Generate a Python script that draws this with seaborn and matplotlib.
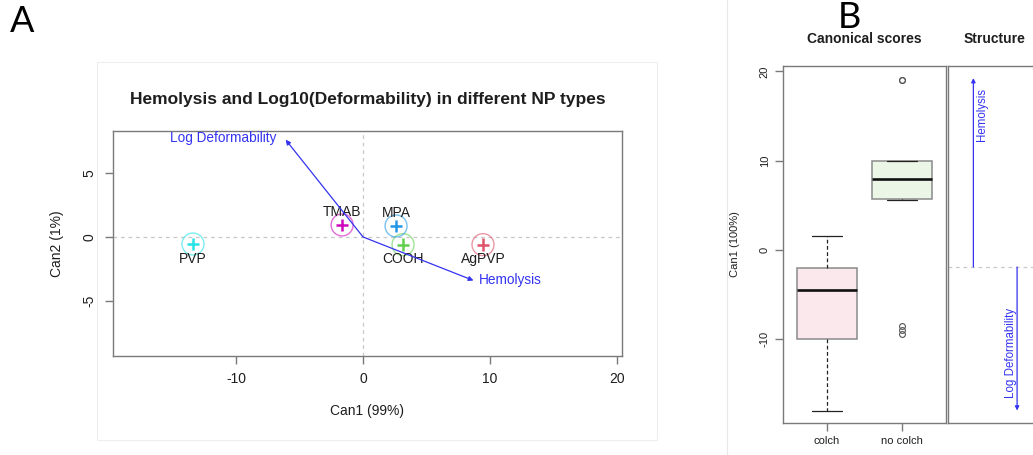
import numpy as np
import pandas as pd
import matplotlib
matplotlib.use("Agg")
import matplotlib.pyplot as plt
from matplotlib.patches import Rectangle
from matplotlib.lines import Line2D
import seaborn as sns

sns.set_theme(style="white")
plt.rcParams["font.family"] = ["Liberation Sans", "DejaVu Sans"]
plt.rcParams["axes.unicode_minus"] = False

# ---- Panel A: canonical means of each NP type ----
np_types = ["AgPVP", "COOH", "MPA", "PVP", "TMAB"]
can1_means = [9.45, 3.15, 2.6, -13.4, -1.65]
can2_means = [-0.6, -0.6, 0.86, -0.55, 0.94]
type_colors = ["#DF536B", "#61D04F", "#2297E6", "#28E2E5", "#CD0BBC"]
label_above = [False, False, True, False, True]

# variable vectors in canonical space
vector_names = ["Hemolysis", "Log Deformability"]
vector_can1 = [8.7, -6.1]
vector_can2 = [-3.4, 7.6]

x_ticks_a = [-10, 0, 10, 20]
y_ticks_a = [-5, 0, 5]

# ---- Panel B: 1-D canonical scores and structure ----
groups = ["colch", "no colch"]
colch_scores = [-18.0, -10.0, -4.5, -2.0, 1.6]
no_colch_scores = [-9.4, -9.0, -8.5, 5.6, 5.65, 5.7, 6.0, 6.5, 7.0, 7.5, 7.9,
                   8.3, 8.8, 9.2, 9.6, 10.0, 10.0, 10.0, 10.0, 19.0, 19.05]
group_fills = ["#fbe8ec", "#ecf6e7"]
y_ticks_b = [-10, 0, 10, 20]

structure_vars = ["Hemolysis", "Log Deformability"]
structure_coef = [1.0, -0.76]

BLUE = "#3434f0"
SPINE = "#7a7a7a"
TXT = "#1e1e1e"

W, H = 1033, 455
fig = plt.figure(figsize=(W / 100, H / 100), dpi=100)


def px_axes(left, top, right, bottom):
    return fig.add_axes([left / W, 1 - bottom / H, (right - left) / W, (bottom - top) / H])


def style_frame(ax):
    for s in ax.spines.values():
        s.set_visible(True)
        s.set_color(SPINE)
        s.set_linewidth(1.0)


# faint borders of the two embedded figure panels
fig.patches.append(Rectangle((97 / W, 1 - 440 / H), (657 - 97) / W, (440 - 62) / H,
                             transform=fig.transFigure, fill=False,
                             edgecolor="#eeeeee", lw=0.8, zorder=0))
fig.lines.append(Line2D([727 / W, 727 / W], [0, 1], transform=fig.transFigure,
                        color="#e8e8e8", lw=0.8, zorder=0))

# ================= Panel A =================
axA = px_axes(113, 131, 622, 356)
style_frame(axA)
dfA = pd.DataFrame({"type": np_types, "Can1": can1_means, "Can2": can2_means})
pal = dict(zip(np_types, type_colors))

axA.axhline(0, color="#c8c8c8", lw=0.9, ls=(0, (3, 3)), zorder=0)
axA.axvline(0, color="#c8c8c8", lw=0.9, ls=(0, (3, 3)), zorder=0)

# circles around the means
sns.scatterplot(data=dfA, x="Can1", y="Can2", hue="type", palette=pal, marker="o",
                s=250, legend=False, ax=axA, zorder=2)
circ = axA.collections[-1]
edge = circ.get_facecolors().copy()
edge[:, 3] = 0.6
circ.set_facecolor("none")
circ.set_edgecolor(edge)
circ.set_linewidth(1.0)

# plus markers at the means
sns.scatterplot(data=dfA, x="Can1", y="Can2", hue="type", palette=pal, marker="+",
                s=80, linewidth=1.8, legend=False, ax=axA, zorder=3)

for name, cx, cy, up in zip(np_types, can1_means, can2_means, label_above):
    axA.annotate(name, xy=(cx, cy), xytext=(0, 9.5 if up else -10.5),
                 textcoords="offset points", ha="center", va="center",
                 fontsize=10, color=TXT, zorder=4)

for name, vx, vy in zip(vector_names, vector_can1, vector_can2):
    axA.annotate("", xy=(vx, vy), xytext=(0, 0),
                 arrowprops=dict(arrowstyle="-|>", color=BLUE, lw=0.9,
                                 mutation_scale=7, shrinkA=0, shrinkB=0), zorder=5)
    if vx < 0:
        axA.annotate(name, xy=(vx, vy), xytext=(-7, 1.5), textcoords="offset points",
                     ha="right", va="center", fontsize=9.8, color=BLUE)
    else:
        axA.annotate(name, xy=(vx, vy), xytext=(4, 0), textcoords="offset points",
                     ha="left", va="center", fontsize=9.8, color=BLUE)

axA.set_xlim(-19.7, 20.4)
axA.set_ylim(-9.3, 8.28)
axA.set_xticks(x_ticks_a)
axA.set_yticks(y_ticks_a)
axA.tick_params(axis="both", which="both", direction="out", length=5.8, width=1,
                color=SPINE, labelsize=10, labelcolor=TXT, bottom=True, left=True, pad=6)
for lab in axA.get_yticklabels():
    lab.set_rotation(90)
    lab.set_va("center")
axA.set_xlabel("Can1 (99%)", fontsize=10, color=TXT, va="center")
axA.xaxis.set_label_coords(0.5, -(411 - 356) / 225)
axA.set_ylabel("Can2 (1%)", fontsize=10, color=TXT, va="center")
axA.yaxis.set_label_coords(-(113 - 57) / 509, 0.5)
axA.set_title("Hemolysis and Log10(Deformability) in different NP types",
              fontsize=12.5, fontweight="bold", color=TXT, pad=19.5)

# ================= Panel B: scores =================
axB = px_axes(783, 66, 946, 423)
style_frame(axB)
dfB = pd.DataFrame({
    "group": ["colch"] * len(colch_scores) + ["no colch"] * len(no_colch_scores),
    "score": colch_scores + no_colch_scores,
})
sns.boxplot(data=dfB, x="group", y="score", hue="group", order=groups, hue_order=groups,
            palette=group_fills, saturation=1, legend=False, width=0.8, whis=1.5,
            linecolor="#8a8a8a", linewidth=1.1, capwidths=0.4,
            medianprops=dict(color="#111111", linewidth=1.9),
            whiskerprops=dict(color="#222222", linewidth=0.9, linestyle=(0, (3, 2))),
            capprops=dict(color="#222222", linewidth=0.9),
            flierprops=dict(marker="o", markerfacecolor="none", markeredgecolor="#555555",
                            markersize=4.2, markeredgewidth=0.8),
            ax=axB)
axB.set_xlim(-0.587, 1.587)
axB.set_ylim(-19.4, 20.6)
axB.set_yticks(y_ticks_b)
axB.tick_params(axis="both", direction="out", length=5.5, width=1, color=SPINE,
                labelsize=8, labelcolor=TXT, bottom=True, left=True, pad=4)
for lab in axB.get_yticklabels():
    lab.set_rotation(90)
    lab.set_va("center")
axB.set_xlabel("")
axB.set_ylabel("Can1 (100%)", fontsize=8, color=TXT, va="center")
axB.yaxis.set_label_coords(-(783 - 735) / 163, 0.5)
axB.set_title("Canonical scores", fontsize=10, fontweight="bold", color=TXT, pad=16.5)

# ================= Panel B: structure =================
axS = px_axes(948, 66, 1042, 423)
style_frame(axS)
axS.set_xlim(0, 1)
axS.set_ylim(-0.826, 1.064)
axS.set_xticks([])
axS.set_yticks([])
axS.axhline(0, color="#c8c8c8", lw=0.9, ls=(0, (3, 3)), zorder=0)
struct_x = [0.27, 0.735]
for name, coef, sx in zip(structure_vars, structure_coef, struct_x):
    axS.annotate("", xy=(sx, coef), xytext=(sx, 0),
                 arrowprops=dict(arrowstyle="-|>", color=BLUE, lw=0.9,
                                 mutation_scale=6, shrinkA=0, shrinkB=0))
    if coef > 0:
        axS.annotate(name, xy=(sx, coef), xytext=(6.5, -7), textcoords="offset points",
                     rotation=90, ha="center", va="top", fontsize=8.3, color=BLUE)
    else:
        axS.annotate(name, xy=(sx, coef), xytext=(-4.5, 9), textcoords="offset points",
                     rotation=90, ha="center", va="bottom", fontsize=8.3, color=BLUE)
axS.set_title("Structure", fontsize=10, fontweight="bold", color=TXT, pad=16.5)

# panel letters
fig.text(22 / W, 1 - 22 / H, "A", fontsize=26, family=["Lato", "DejaVu Sans"],
         ha="center", va="center", color="black")
fig.text(849 / W, 1 - 18 / H, "B", fontsize=26, family=["Lato", "DejaVu Sans"],
         ha="center", va="center", color="black")

fig.savefig("out.png", dpi=100, facecolor="white")
